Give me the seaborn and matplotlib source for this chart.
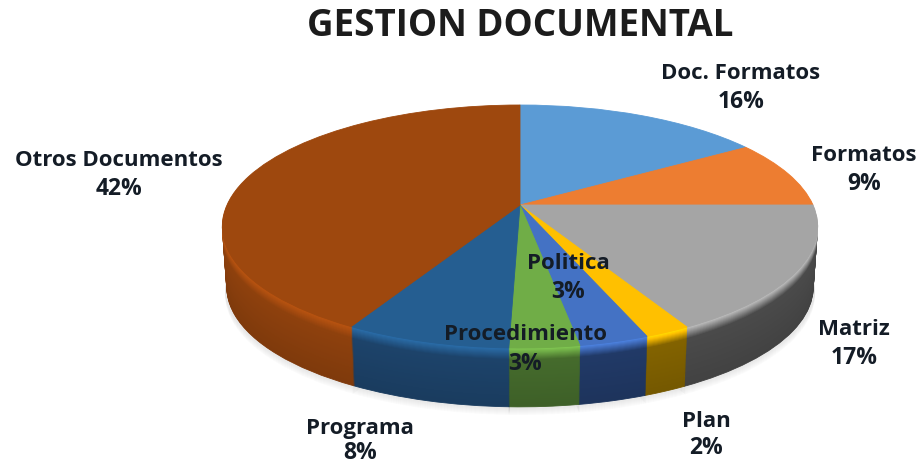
"""Gestion documental: pie with a tilted perspective and a thick side wall."""

import numpy as np
import matplotlib

matplotlib.use("Agg")
import matplotlib.pyplot as plt
import matplotlib.transforms as mtransforms
import seaborn as sns

categories = ["Doc. Formatos", "Formatos", "Matriz", "Plan", "Politica",
              "Procedimiento", "Programa", "Otros Documentos"]
shares = [16, 9, 17, 2.1, 3.2, 3.2, 7.6, 41.9]
top_colors = ["#5b9bd5", "#ed7d31", "#a5a5a5", "#ffc000",
              "#4472c4", "#70ad47", "#255e91", "#9e480e"]
side_colors = ["#2f5f8f", "#a0521d", "#484848", "#7f6000",
               "#203864", "#43682b", "#1c4167", "#8a3f0d"]

# label centres in pixels (x, y of the name line, y of the percent line)
LABEL_POS = [(741, 71, 99), (864, 153, 181), (854, 327, 355), (706, 419, 445),
             (568, 261, 289), (525, 332, 361), (360, 426, 450), (119, 158, 186)]

CENTER = (520, 205)
DEPTH = 61
FONT = "Open Sans"


class TiltTransform(mtransforms.Transform):
    """Projects the unit pie onto the picture plane, camera in front of it."""

    input_dims = 2
    output_dims = 2
    is_separable = False
    has_inverse = False

    def __init__(self, drop=0.0, scale=1.0):
        super().__init__()
        self.drop = drop
        self.scale = scale

    def transform_non_affine(self, values):
        values = np.asarray(values, dtype=float)
        x, y = values[:, 0], values[:, 1]
        w = 1 + 0.177 * y
        px = CENTER[0] + self.scale * 293 * x / w
        py = CENTER[1] + self.drop - self.scale * 117.7 * y / w
        return np.column_stack([px, py])


sns.set_theme(style="white")
plt.rcParams["font.family"] = [FONT, "DejaVu Sans"]

fig = plt.figure(figsize=(9.19, 4.66), dpi=100)
ax = fig.add_axes([0, 0, 1, 1])


def draw_layer(colors, drop, scale, zorder, radius=1.0, alpha=None):
    wedges, _ = ax.pie(shares, colors=colors, startangle=90, counterclock=False,
                       radius=radius, wedgeprops={"linewidth": 0.6, "alpha": alpha})
    for wedge, color in zip(wedges, colors):
        wedge.set_edgecolor(color)
        wedge.set_transform(TiltTransform(drop, scale) + ax.transData)
        wedge.set_zorder(zorder)


# soft shadow under the pie
for i, d in enumerate(range(DEPTH + 7, DEPTH, -1)):
    draw_layer(["#000000"] * len(shares), d, 0.99, i + 1, alpha=0.012)

# side wall, drawn from the bottom up, lighter towards the rim
top_rgb = sns.color_palette(top_colors)
side_rgb = sns.color_palette(side_colors)
for d in range(DEPTH, 0, -1):
    f = d / DEPTH
    wall = []
    for top, side in zip(top_rgb, side_rgb):
        base = np.array(side) * (1.06 - 0.14 * f)
        if d < 12:
            mix = (12 - d) / 12
            base = base * (1 - mix) + np.array(top) * 1.18 * mix
        wall.append(tuple(np.clip(base, 0, 1)))
    draw_layer(wall, d, 1 - 0.015 * f, 100 - d)

draw_layer(top_colors, 0, 1.0, 101)

ax.set_aspect("auto")
ax.set_xlim(0, 919)
ax.set_ylim(466, 0)
ax.axis("off")

ax.text(520, 22, "GESTION DOCUMENTAL", ha="center", va="center_baseline",
        fontsize=26.5, fontweight="bold", color="#1c1c1c", zorder=200)

for name, share, (x, y1, y2) in zip(categories, shares, LABEL_POS):
    ax.text(x, y1, name, ha="center", va="center_baseline", fontsize=16,
            fontweight="bold", color="#141c26", zorder=200)
    ax.text(x, y2, f"{share:.0f}%", ha="center", va="center_baseline", fontsize=16.5,
            fontweight="bold", color="#141c26", zorder=200)

fig.savefig("out.png", dpi=100)
